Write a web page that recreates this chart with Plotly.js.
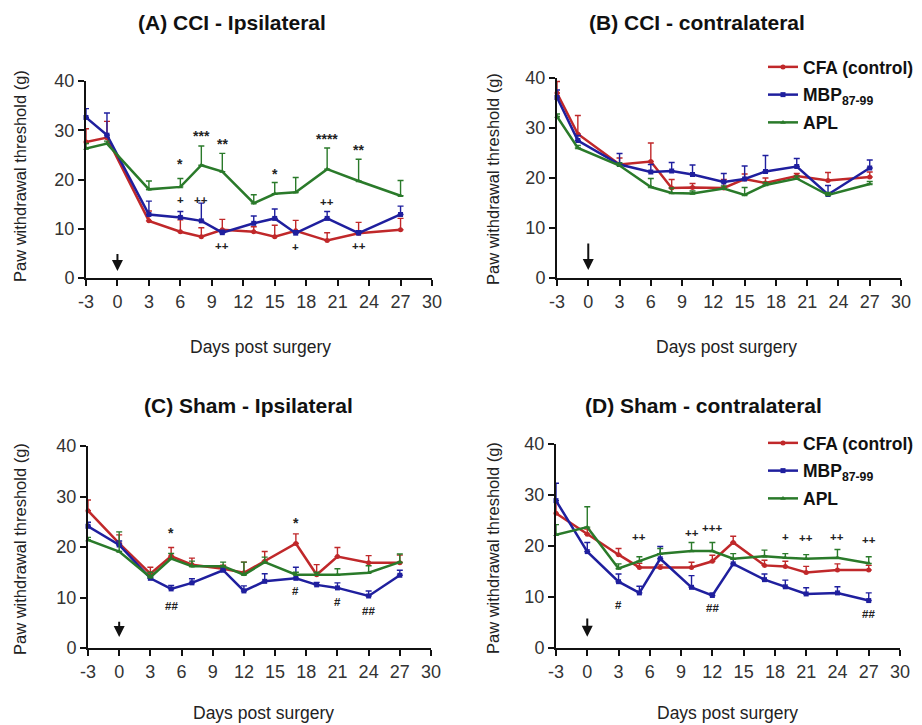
<!DOCTYPE html>
<html>
<head>
<meta charset="utf-8">
<script src="https://cdn.plot.ly/plotly-3.0.1.min.js"></script>
<style>html,body{margin:0;padding:0;background:#fff}#chart{width:922px;height:725px}</style>
</head>
<body>
<div id="chart"></div>
<script>
// ---------- DATA ----------
const seriesNames = ["CFA (control)", "MBP<sub>87-99</sub>", "APL"];
const xTicks = [-3, 0, 3, 6, 9, 12, 15, 18, 21, 24, 27, 30];
const xTickText = ["-3", "0", "3", "6", "9", "12", "15", "18", "21", "24", "27", "30"];
const yTicks = [0, 10, 20, 30, 40];

// Panel A: CCI - Ipsilateral
const daysA = [-3, -1, 3, 6, 8, 10, 13, 15, 17, 20, 23, 27];
const redA = [27.6, 28.5, 11.6, 9.4, 8.4, 9.8, 9.4, 8.4, 9.6, 7.6, 9.1, 9.8];
const redErrA = [2.7, 3.3, 2.0, 2.4, 1.8, 2.1, 1.0, 2.3, 2.1, 1.6, 2.2, 2.3];
const blueA = [32.6, 29.0, 12.9, 12.3, 11.6, 9.2, 11.1, 12.1, 9.1, 12.1, 9.1, 12.9];
const blueErrA = [1.8, 4.5, 2.7, 1.2, 3.6, 0.5, 1.5, 1.9, 0.5, 1.4, 0.5, 1.7];
const greenA = [26.3, 27.3, 18.0, 18.5, 22.9, 21.6, 15.2, 17.1, 17.4, 22.1, 19.7, 16.7];
const greenErrA = [1.0, 0.5, 1.7, 1.7, 3.9, 3.7, 1.7, 2.3, 3.0, 4.3, 4.4, 3.1];

// Panel B: CCI - contralateral
const daysB = [-3, -1, 3, 6, 8, 10, 13, 15, 17, 20, 23, 27];
const redB = [37.0, 28.8, 22.7, 23.3, 18.0, 18.1, 18.0, 19.8, 19.0, 20.4, 19.5, 20.2];
const redErrB = [2.3, 3.7, 1.3, 3.7, 1.7, 0.8, 1.7, 1.0, 1.0, 0.5, 1.6, 1.0];
const blueB = [36.1, 27.5, 22.7, 21.2, 21.4, 20.7, 19.2, 19.8, 21.3, 22.3, 16.7, 22.0];
const blueErrB = [1.5, 1.0, 2.2, 1.5, 1.7, 1.9, 1.7, 2.6, 3.2, 1.6, 1.8, 1.6];
const greenB = [32.3, 26.0, 22.5, 18.2, 17.0, 16.9, 17.9, 16.6, 18.6, 19.9, 16.6, 18.8];
const greenErrB = [0.5, 0.5, 0.5, 1.7, 1.0, 0.5, 0.5, 1.5, 0.5, 0.5, 0.5, 0.5];

// Panel C: Sham - Ipsilateral
const daysC = [-3, 0, 3, 5, 7, 10, 12, 14, 17, 19, 21, 24, 27];
const redC = [27.2, 20.7, 14.7, 18.2, 16.5, 15.7, 14.9, 17.2, 20.7, 14.5, 18.1, 16.9, 16.9];
const redErrC = [2.1, 1.7, 1.3, 1.7, 1.3, 0.7, 2.1, 1.9, 1.9, 2.0, 1.8, 1.4, 1.5];
const blueC = [24.1, 20.4, 13.8, 11.7, 12.9, 15.4, 11.3, 13.2, 13.8, 12.5, 11.9, 10.3, 14.4];
const blueErrC = [0.8, 0.8, 0.5, 0.7, 0.8, 0.5, 1.0, 1.5, 2.2, 0.5, 1.0, 1.0, 1.0];
const greenC = [21.4, 19.1, 14.0, 17.7, 16.2, 16.2, 14.5, 17.0, 14.5, 14.5, 14.5, 14.9, 17.0];
const greenErrC = [0.5, 3.9, 1.0, 1.0, 1.0, 0.8, 2.5, 1.0, 0.5, 0.5, 1.2, 1.4, 1.6];

// Panel D: Sham - contralateral
const daysD = [-3, 0, 3, 5, 7, 10, 12, 14, 17, 19, 21, 24, 27];
const redD = [26.4, 22.3, 18.3, 15.8, 15.8, 15.8, 17.0, 20.7, 16.2, 16.0, 14.8, 15.3, 15.3];
const redErrD = [2.0, 1.0, 1.2, 0.8, 0.5, 1.0, 1.2, 1.2, 1.0, 1.0, 1.2, 1.2, 0.9];
const blueD = [28.9, 18.9, 13.0, 10.8, 17.5, 11.9, 10.3, 16.5, 13.4, 12.0, 10.6, 10.8, 9.3];
const blueErrD = [3.4, 1.8, 1.5, 1.3, 2.4, 2.3, 0.5, 1.0, 1.1, 1.3, 1.2, 1.2, 1.5];
const greenD = [22.2, 23.7, 15.6, 17.0, 18.5, 19.0, 19.0, 17.5, 18.0, 17.7, 17.5, 17.7, 16.6];
const greenErrD = [2.0, 4.0, 0.9, 0.9, 1.0, 1.7, 1.7, 1.0, 1.2, 0.8, 0.8, 1.6, 1.3];

// Significance markers
const sigAx = [6, 8, 10, 15, 20, 23, 6, 8, 20, 10, 17, 23];
const sigAy = [23.2, 28.9, 27.2, 21.2, 28.3, 25.9, 15.8, 15.8, 15.4, 6.4, 6.2, 6.5];
const sigAt = ["*", "***", "**", "*", "****", "**", "+", "++", "++", "++", "+", "++"];
const sigCx = [5, 17, 5, 17, 21, 24];
const sigCy = [22.7, 24.8, 8.3, 11.3, 9.2, 7.4];
const sigCt = ["*", "*", "##", "#", "#", "##"];
const sigDx = [3, 5, 10, 12, 19, 21, 24, 27, 12, 27];
const sigDy = [8.5, 21.8, 22.5, 23.6, 21.8, 21.5, 21.8, 21.1, 7.8, 6.7];
const sigDt = ["#", "++", "++", "+++", "+", "++", "++", "++", "##", "##"];

// Arrow (surgery day) start/end values per panel
const arrowTop = [5.2, 7.2, 5.5, 6.1];
const arrowTip = [1.4, 1.6, 2.2, 2.2];

// ---------- STYLE ----------
const colors = ["#c0282a", "#1f1f9e", "#2a7a2a"];
const symbols = ["circle", "square", "triangle-up"];
const FONT = "Liberation Sans, Arial, sans-serif";

const panels = [
  {days: daysA, ys: [redA, blueA, greenA], errs: [redErrA, blueErrA, greenErrA], xa: "x", ya: "y", legend: null},
  {days: daysB, ys: [redB, blueB, greenB], errs: [redErrB, blueErrB, greenErrB], xa: "x2", ya: "y2", legend: "legend"},
  {days: daysC, ys: [redC, blueC, greenC], errs: [redErrC, blueErrC, greenErrC], xa: "x3", ya: "y3", legend: null},
  {days: daysD, ys: [redD, blueD, greenD], errs: [redErrD, blueErrD, greenErrD], xa: "x4", ya: "y4", legend: "legend2"}
];

const traces = [];
panels.forEach(p => {
  for (let s = 0; s < 3; s++) {
    const t = {
      type: "scatter", mode: "lines+markers",
      x: p.days, y: p.ys[s], xaxis: p.xa, yaxis: p.ya,
      name: "<b>" + seriesNames[s] + "</b>",
      line: {color: colors[s], width: 2.5},
      marker: {color: colors[s], symbol: symbols[s], size: 5},
      error_y: {type: "data", symmetric: false, array: p.errs[s], arrayminus: p.days.map(() => 0),
                color: colors[s], thickness: 1.4, width: 3},
      cliponaxis: false,
      showlegend: !!p.legend,
      legendgroup: "g" + s + p.xa
    };
    if (p.legend) t.legend = p.legend;
    traces.push(t);
  }
});

function xax(dom, anchor) {
  return {domain: dom, anchor: anchor, range: [-3, 30], tickvals: xTicks, ticktext: xTickText, showgrid: false, zeroline: false,
    showline: true, linecolor: "#111", linewidth: 2, ticks: "outside", ticklen: 6, tickwidth: 2, tickcolor: "#111",
    tickfont: {family: FONT, size: 18, color: "#333"}, fixedrange: true};
}
function yax(dom, anchor) {
  return {domain: dom, anchor: anchor, range: [0, 40], tickvals: yTicks, showgrid: false, zeroline: false,
    showline: true, linecolor: "#111", linewidth: 2, ticks: "outside", ticklen: 6, tickwidth: 2, tickcolor: "#111",
    tickfont: {family: FONT, size: 18, color: "#333"}, fixedrange: true};
}

const W = 922, H = 725;
const px = v => v / W, py = v => 1 - v / H;

const annotations = [];
const titles = [
  ["(A) CCI - Ipsilateral", 232, 22], ["(B) CCI - contralateral", 697, 22],
  ["(C) Sham - Ipsilateral", 248, 405], ["(D) Sham - contralateral", 703, 405]
];
titles.forEach(t => annotations.push({text: "<b>" + t[0] + "</b>", xref: "paper", yref: "paper", x: px(t[1]), y: py(t[2]),
  xanchor: "center", yanchor: "middle", showarrow: false, font: {family: FONT, size: 21, color: "#111"}}));

const xTitles = [[260, 347], [726, 347], [263, 713], [727, 713]];
xTitles.forEach(t => annotations.push({text: "Days post surgery", xref: "paper", yref: "paper", x: px(t[0]), y: py(t[1]),
  xanchor: "center", yanchor: "middle", showarrow: false, font: {family: FONT, size: 17.5, color: "#222"}}));

const yTitles = [[20, 176], [493, 179], [20, 549], [493, 548]];
yTitles.forEach(t => annotations.push({text: "Paw withdrawal threshold (g)", xref: "paper", yref: "paper", x: px(t[0]), y: py(t[1]),
  xanchor: "center", yanchor: "middle", textangle: -90, showarrow: false, font: {family: FONT, size: 16.5, color: "#222"}}));

["", "2", "3", "4"].forEach((k, i) => {
  annotations.push({xref: "x" + k, yref: "y" + k, axref: "x" + k, ayref: "y" + k, x: 0, y: arrowTip[i], ax: 0, ay: arrowTop[i],
    text: "", showarrow: true, arrowhead: 2, arrowsize: 1.1, arrowwidth: 2, arrowcolor: "#111"});
});

function addSig(xs, ys, ts, k) {
  xs.forEach((x, i) => {
    const star = ts[i].indexOf("*") >= 0;
    annotations.push({xref: "x" + k, yref: "y" + k, x: x, y: ys[i], text: "<b>" + ts[i] + "</b>", showarrow: false,
      xanchor: "center", yanchor: "middle", font: {family: FONT, size: star ? 14 : 11.5, color: "#222"}});
  });
}
addSig(sigAx, sigAy, sigAt, "");
addSig(sigCx, sigCy, sigCt, "3");
addSig(sigDx, sigDy, sigDt, "4");

const legendStyle = (ytop) => ({x: px(763), y: py(ytop), xanchor: "left", yanchor: "top", bgcolor: "rgba(0,0,0,0)",
  font: {family: FONT, size: 17.5, color: "#111"}, tracegroupgap: 2, itemwidth: 30});

const layout = {
  width: W, height: H, margin: {l: 0, r: 0, t: 0, b: 0}, paper_bgcolor: "#fff", plot_bgcolor: "#fff",
  font: {family: FONT},
  xaxis: xax([px(86), px(432)], "y"), yaxis: yax([py(278), py(81)], "x"),
  xaxis2: xax([px(557), px(901)], "y2"), yaxis2: yax([py(278), py(78)], "x2"),
  xaxis3: xax([px(88), px(431)], "y3"), yaxis3: yax([py(648), py(446)], "x3"),
  xaxis4: xax([px(556), px(900)], "y4"), yaxis4: yax([py(648), py(444)], "x4"),
  legend: legendStyle(49),
  legend2: legendStyle(425),
  annotations: annotations,
  showlegend: true
};

Plotly.newPlot("chart", traces, layout, {displayModeBar: false, staticPlot: true});
</script>
</body>
</html>
